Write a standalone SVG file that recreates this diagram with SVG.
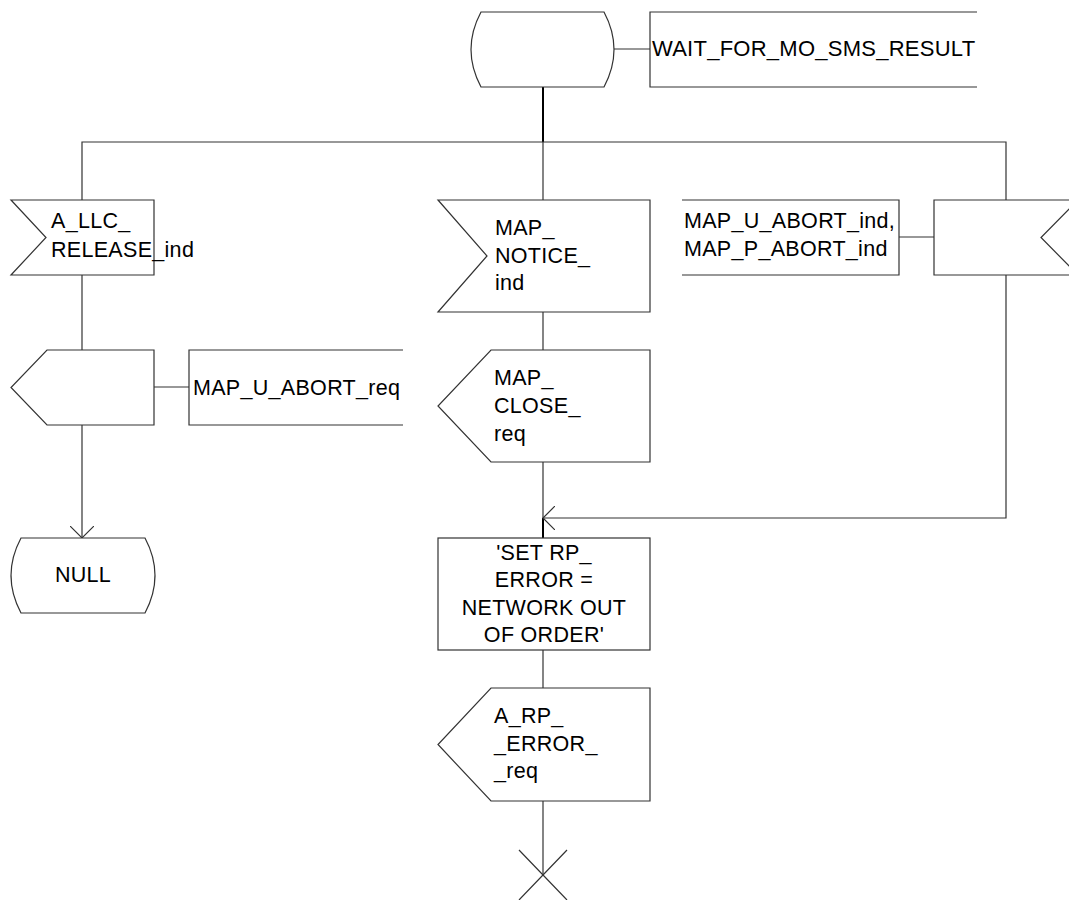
<svg xmlns="http://www.w3.org/2000/svg" width="1069" height="900" viewBox="0 0 1069 900">
<defs>
<style>
.s{fill:#fff;stroke:#333;stroke-width:1.2}
.c{fill:none;stroke:#333;stroke-width:1.2}
.t{font-family:"Liberation Sans",Arial,sans-serif;font-size:21.5px;fill:#000;letter-spacing:0.3px}
.m{text-anchor:middle}
</style>
<marker id="arr" viewBox="0 0 24 24" refX="12" refY="12" markerWidth="24" markerHeight="24" markerUnits="userSpaceOnUse" orient="auto">
<path d="M0,0 L12,12 L0,24" fill="none" stroke="#333" stroke-width="1.2"/>
</marker>
</defs>
<rect width="1069" height="900" fill="#fff"/>
<g id="connectors">
<line x1="543" y1="87" x2="543" y2="142" stroke="#000" stroke-width="2"/>
<path class="c" d="M82,200 V142 H1006 V200"/>
<line class="c" x1="543" y1="142" x2="543" y2="200"/>
<line class="c" x1="614" y1="49" x2="650" y2="49"/>
<line class="c" x1="82" y1="275" x2="82" y2="350"/>
<line class="c" x1="82" y1="425" x2="82" y2="538" marker-end="url(#arr)"/>
<line class="c" x1="154" y1="387" x2="189" y2="387"/>
<line class="c" x1="543" y1="312" x2="543" y2="350"/>
<line class="c" x1="543" y1="462" x2="543" y2="518"/>
<line x1="543" y1="518" x2="543" y2="538" stroke="#000" stroke-width="2"/>
<path class="c" d="M1006,275 V518 H543" marker-end="url(#arr)"/>
<line class="c" x1="899" y1="237" x2="934" y2="237"/>
<line class="c" x1="543" y1="650" x2="543" y2="688"/>
<line class="c" x1="543" y1="801" x2="543" y2="875"/>
</g>
<g id="state_wait">
<path class="s" d="M481,12 H604 Q624,49.5 604,87 H481 Q461,49.5 481,12 Z"/>
<path class="c" d="M977,12 H650 V87 H977"/>
<text class="t" x="652" y="56" style="font-size:22px;letter-spacing:0.25px">WAIT_FOR_MO_SMS_RESULT</text>
</g>
<g id="in_llc_release">
<polygon class="s" points="11,200 154,200 154,275 11,275 46,237.5"/>
<text class="t" x="51" y="228">A_LLC_</text>
<text class="t" x="51" y="257">RELEASE_ind</text>
</g>
<g id="out_u_abort">
<polygon class="s" points="47,350 154,350 154,425 47,425 11,387.5"/>
<path class="c" d="M403,350 H189 V425 H403"/>
<text class="t" x="193" y="395">MAP_U_ABORT_req</text>
</g>
<g id="state_null">
<path class="s" d="M21,538 H145 Q165,575.5 145,613 H21 Q1,575.5 21,538 Z"/>
<text class="t m" x="83" y="582">NULL</text>
</g>
<g id="in_notice">
<polygon class="s" points="438,200 650,200 650,312 438,312 487,256"/>
<text class="t" x="495" y="235">MAP_</text>
<text class="t" x="495" y="263">NOTICE_</text>
<text class="t" x="495" y="290">ind</text>
</g>
<g id="out_close">
<polygon class="s" points="491,350 650,350 650,462 491,462 438,406"/>
<text class="t" x="494" y="385">MAP_</text>
<text class="t" x="494" y="413">CLOSE_</text>
<text class="t" x="494" y="441">req</text>
</g>
<g id="in_abort">
<path class="c" d="M682,200 H899 V275 H682"/>
<text class="t" x="684" y="228">MAP_U_ABORT_ind,</text>
<text class="t" x="684" y="256">MAP_P_ABORT_ind</text>
<polygon class="s" points="934,200 1078,200 1041,237.5 1078,275 934,275"/>
</g>
<g id="task_set_error">
<rect class="s" x="438" y="538" width="212" height="112"/>
<text class="t m" x="544" y="560">'SET RP_</text>
<text class="t m" x="544" y="587">ERROR =</text>
<text class="t m" x="544" y="615">NETWORK OUT</text>
<text class="t m" x="544" y="642">OF ORDER'</text>
</g>
<g id="out_rp_error">
<polygon class="s" points="491,688 650,688 650,801 491,801 438,744.5"/>
<text class="t" x="494" y="723">A_RP_</text>
<text class="t" x="494" y="751">_ERROR_</text>
<text class="t" x="494" y="778">_req</text>
</g>
<g id="stop">
<path class="c" d="M519,850 L567,900 M567,850 L519,900"/>
</g>
</svg>
